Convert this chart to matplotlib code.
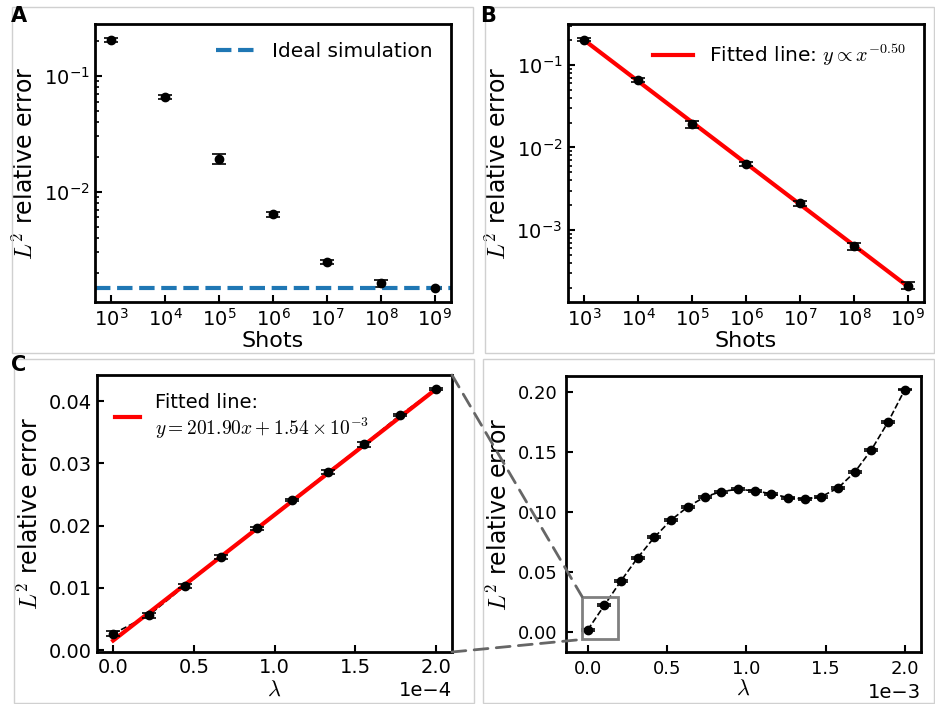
import numpy as np
import matplotlib
matplotlib.use("Agg")
import matplotlib.pyplot as plt
from matplotlib.patches import Rectangle, ConnectionPatch
from matplotlib.ticker import NullLocator, LogLocator

# ---- data ----
shots = [1e3, 1e4, 1e5, 1e6, 1e7, 1e8, 1e9]

# panel A: error vs shots, with the ideal-simulation floor
err_a = [0.204, 0.066, 0.0192, 0.00637, 0.00246, 0.00162, 0.00148]
std_a = [0.007, 0.0025, 0.0018, 0.0003, 0.0001, 0.0001, 0.00004]
ideal_err = 0.00148

# panel B: error vs shots (shot noise only)
err_b = [0.203, 0.066, 0.019, 0.00634, 0.0021, 0.00064, 0.000211]
std_b = [0.010, 0.003, 0.0017, 0.0004, 0.00012, 0.00006, 0.00002]

# panel C: small lambda
lam_c = [0.0, 2.222e-5, 4.444e-5, 6.667e-5, 8.889e-5,
         1.1111e-4, 1.3333e-4, 1.5556e-4, 1.7778e-4, 2.0e-4]
err_c = [0.00262, 0.00562, 0.01033, 0.01494, 0.01955,
         0.0241, 0.02865, 0.03304, 0.03775, 0.04193]
std_c = [0.0004, 0.0004, 0.0003, 0.0003, 0.0003,
         0.0002, 0.0003, 0.0004, 0.0002, 0.0002]
fit_slope_c = 201.90
fit_icpt_c = 1.54e-3

# panel D: full lambda range
lam_d = [0.0, 1.053e-4, 2.105e-4, 3.158e-4, 4.211e-4, 5.263e-4, 6.316e-4,
         7.368e-4, 8.421e-4, 9.474e-4, 1.0526e-3, 1.1579e-3, 1.2632e-3,
         1.3684e-3, 1.4737e-3, 1.5789e-3, 1.6842e-3, 1.7895e-3, 1.8947e-3, 2.0e-3]
err_d = [0.0021, 0.0226, 0.043, 0.0622, 0.0792, 0.0935, 0.1044, 0.1126,
         0.1171, 0.1190, 0.1177, 0.1153, 0.1121, 0.1108, 0.1129, 0.1201,
         0.1333, 0.1519, 0.1750, 0.2019]
std_d = [0.0008] * len(err_d)

W, H = 935, 704
YLABEL = r"$L^2$ relative error"


def axes_px(fig, left, top, right, bottom):
    return fig.add_axes([left / W, 1 - bottom / H, (right - left) / W, (bottom - top) / H])


def style(ax, labelsize=14, pad=4):
    for s in ax.spines.values():
        s.set_linewidth(2.0)
    ax.tick_params(which="both", direction="in", top=False, right=False)
    ax.tick_params(which="major", length=5, width=1.5, labelsize=labelsize, pad=pad)
    ax.tick_params(which="minor", length=3, width=1.2)


def ylab(ax, size=17):
    ax.set_ylabel(YLABEL, fontsize=size, math_fontfamily="cm")


def log_shots_axis(ax):
    ax.set_xscale("log")
    ax.set_yscale("log")
    ax.xaxis.set_major_locator(LogLocator(base=10, numticks=15))
    ax.xaxis.set_minor_locator(NullLocator())
    ax.yaxis.set_major_locator(LogLocator(base=10, numticks=15))


fig = plt.figure(figsize=(W / 100, H / 100), dpi=100)

# light panel frames
for (l, t, r, b) in [(12, 7, 473, 353), (485, 7, 934, 353), (14, 359, 474, 703), (483, 359, 934, 703)]:
    fig.add_artist(Rectangle((l / W, 1 - b / H), (r - l) / W, (b - t) / H,
                             transform=fig.transFigure, fill=False,
                             edgecolor="#d0d0d0", linewidth=1.0))

ebkw = dict(fmt="o", color="black", ms=6, capsize=5, elinewidth=1.2, capthick=1.2)

# ---- A ----
axA = axes_px(fig, 95, 24, 451, 302)
axA.errorbar(shots, err_a, yerr=std_a, **ebkw)
axA.axhline(ideal_err, color="#1f77b4", ls="--", lw=3, label="Ideal simulation")
log_shots_axis(axA)
axA.set_ylim(1.12e-3, 0.28)
style(axA)
axA.set_xlabel("Shots", fontsize=16, labelpad=1)
ylab(axA)
axA.legend(loc="upper right", frameon=False, fontsize=14.5)

# ---- B ----
axB = axes_px(fig, 568, 24, 924, 302)
axB.errorbar(shots, err_b, yerr=std_b, zorder=3, **ebkw)
k, c = np.polyfit(np.log10(shots), np.log10(err_b), 1)
xs = np.array([shots[0], shots[-1]])
axB.plot(xs, 10 ** (c + k * np.log10(xs)), color="red", lw=3,
         label=r"Fitted line: $y \propto x^{%.2f}$" % k, zorder=2)
log_shots_axis(axB)
axB.set_ylim(1.34e-4, 0.314)
style(axB)
axB.set_xlabel("Shots", fontsize=16, labelpad=1)
ylab(axB)
leg = axB.legend(loc="upper right", frameon=False, fontsize=14.5)
for t in leg.get_texts():
    t.set_math_fontfamily("cm")

# ---- C ----
axC = axes_px(fig, 97, 375, 452, 652)
lc = np.array(lam_c)
axC.plot(lc, err_c, color="black", ls="--", lw=1.2, zorder=2)
axC.plot(lc, fit_slope_c * lc + fit_icpt_c, color="red", lw=3, zorder=3,
         label="Fitted line:\n" + r"$y = %.2fx + %.2f \times 10^{-3}$" % (fit_slope_c, fit_icpt_c * 1e3))
axC.errorbar(lc, err_c, yerr=std_c, zorder=4, **ebkw)
axC.set_ylim(-0.0003, 0.0442)
axC.set_yticks([0.0, 0.01, 0.02, 0.03, 0.04])
axC.ticklabel_format(axis="x", style="sci", scilimits=(0, 0))
style(axC)
axC.xaxis.get_offset_text().set_fontsize(14)
axC.set_xlabel(r"$\lambda$", fontsize=16, labelpad=2, math_fontfamily="cm")
ylab(axC)
leg = axC.legend(loc="upper left", frameon=False, fontsize=14, handlelength=1.3,
                 bbox_to_anchor=(0.0, 1.0))
for t in leg.get_texts():
    t.set_math_fontfamily("cm")

# ---- D ----
axD = axes_px(fig, 566, 376, 921, 652)
axD.plot(lam_d, err_d, color="black", ls="--", lw=1.2, zorder=2)
axD.errorbar(lam_d, err_d, yerr=std_d, zorder=4, **ebkw)
axD.ticklabel_format(axis="x", style="sci", scilimits=(0, 0))
style(axD, labelsize=13, pad=6)
axD.xaxis.get_offset_text().set_fontsize(14)
axD.set_xlabel(r"$\lambda$", fontsize=16, labelpad=0, math_fontfamily="cm")
ylab(axD)
rect = Rectangle((-3.5e-5, -0.0058), 2.23e-4, 0.0355, fill=False,
                 edgecolor="#808080", lw=2, zorder=5)
axD.add_patch(rect)

# zoom connectors from C to the box in D
for ya, yb in [(1, 0.0297), (0, -0.0058)]:
    con = ConnectionPatch(xyA=(1, ya), coordsA=axC.transAxes,
                          xyB=(-3.5e-5, yb), coordsB=axD.transData,
                          color="#666666", ls=(0, (5, 3)), lw=2, zorder=10)
    fig.add_artist(con)

# panel letters
for lbl, x, y in [("A", 11, 6), ("B", 480, 6), ("C", 11, 355)]:
    fig.text(x / W, 1 - y / H, lbl, fontsize=15, fontweight="heavy", va="top", ha="left")

fig.savefig("out.png", dpi=100)
